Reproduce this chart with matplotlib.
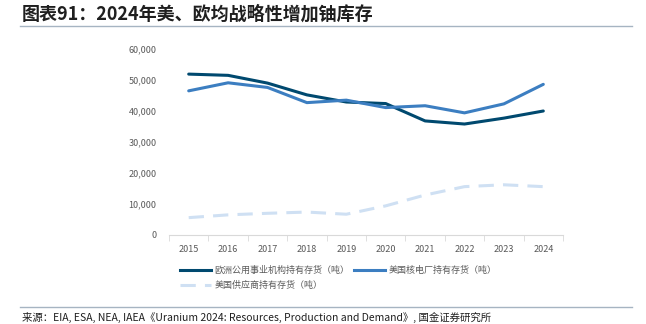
import numpy as np
import matplotlib.pyplot as plt
from matplotlib.lines import Line2D

plt.rcParams['font.family'] = ['Noto Sans CJK SC', 'DejaVu Sans']

years = ["2015", "2016", "2017", "2018", "2019", "2020", "2021", "2022", "2023", "2024"]
eu_utilities = [51900, 51500, 49000, 45200, 42900, 42400, 36800, 35800, 37700, 40000]
us_utilities = [46500, 49100, 47600, 42700, 43500, 41100, 41700, 39400, 42300, 48600]
us_suppliers = [5600, 6500, 7000, 7400, 6700, 9400, 12900, 15600, 16200, 15600]
labels = ["欧洲公用事业机构持有存货（吨）", "美国核电厂持有存货（吨）", "美国供应商持有存货（吨）"]

c_dark = "#00496F"
c_mid = "#3C7EC1"
c_light = "#CFE0F3"
gray = "#595959"

fig = plt.figure(figsize=(6.46, 3.24), dpi=100)
ax = fig.add_axes([169 / 646, 1 - 235 / 324, 394 / 646, 186 / 324])

x = np.arange(len(years))
ax.plot(x, eu_utilities, color=c_dark, lw=2.2, solid_capstyle="round")
ax.plot(x, us_utilities, color=c_mid, lw=2.2, solid_capstyle="round")
ax.plot(x, us_suppliers, color=c_light, lw=2.2, dashes=(5, 3))

ax.set_xlim(-0.5, len(years) - 0.5)
ax.set_ylim(0, 60000)
ax.set_yticks(range(0, 60001, 10000))
ax.set_yticklabels([f"{v:,}" for v in range(0, 60001, 10000)])
ax.set_xticks(x)
ax.set_xticklabels(years)
ax.set_xticks(np.arange(-0.5, len(years)), minor=True)
ax.tick_params(axis="x", which="major", length=0, pad=7, labelsize=6.5, labelcolor=gray)
ax.tick_params(axis="x", which="minor", length=4, color="#D9D9D9", direction="out")
ax.tick_params(axis="y", length=0, pad=9, labelsize=6.5, labelcolor=gray)
for s in ["top", "right", "left"]:
    ax.spines[s].set_visible(False)
ax.spines["bottom"].set_color("#D9D9D9")

# matplotlib fills legend columns first, so order entries to get the reference rows
handles = [Line2D([], [], color=c_dark, lw=2.2),
           Line2D([], [], color=c_light, lw=2.2, dashes=(5, 3)),
           Line2D([], [], color=c_mid, lw=2.2)]
leg_labels = [labels[0], labels[2], labels[1]]
fig.legend(handles, leg_labels, loc="upper left", bbox_to_anchor=(172 / 646, 1 - 258 / 324),
           ncol=2, frameon=False, fontsize=6.5, labelcolor=gray, handlelength=3.4,
           handletextpad=0.4, columnspacing=0.5, labelspacing=0.6)

fig.text(22 / 646, 1 - 14 / 324, "图表91：2024年美、欧均战略性增加铀库存", fontsize=13,
         fontweight="bold", color="#1F1F1F", va="center", style="italic")
fig.add_artist(Line2D([20 / 646, 632 / 646], [1 - 26 / 324] * 2, color="#A6B4C2", lw=1))
fig.add_artist(Line2D([20 / 646, 632 / 646], [1 - 307 / 324] * 2, color="#A6B4C2", lw=1))
fig.text(22 / 646, 1 - 317 / 324,
         "来源：EIA, ESA, NEA, IAEA《Uranium 2024: Resources, Production and Demand》, 国金证券研究所",
         fontsize=7.5, color="#1F1F1F", va="center")

fig.savefig("out.png", dpi=100)
